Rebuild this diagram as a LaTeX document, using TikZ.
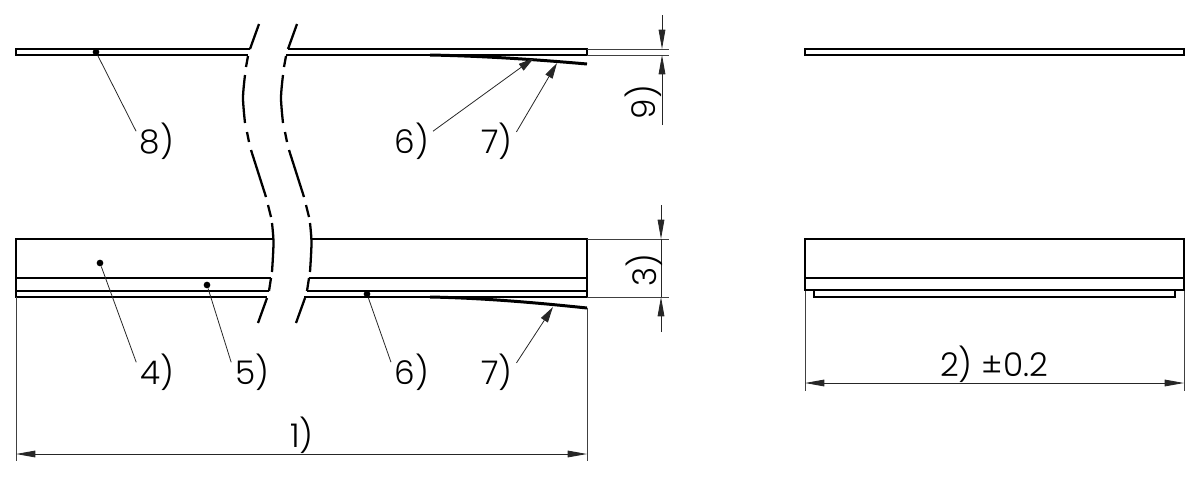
\documentclass[tikz,border=0pt]{standalone}
\usepackage{fontspec}
\setmainfont{Poppins Light}
\usetikzlibrary{arrows.meta}
\tikzset{
	part/.style={line width=1.4pt,line join=miter},
	thin line/.style={line width=0.5pt,black!75},
	dimline/.style={line width=0.5pt,black!85},
	dimtip/.style={{Triangle[length=11pt,width=3.8pt]}-{Triangle[length=11pt,width=3.8pt]}},
	endtip/.style={-{Triangle[length=11pt,width=3.8pt]}},
	leader/.style={line width=0.45pt,black!85},
	leadertip/.style={-{Triangle[length=9pt,width=4.6pt]}},
	breakline/.style={line width=1.3pt},
	bent/.style={line width=1.7pt},
	dot/.style={circle,fill=black,inner sep=0pt,minimum size=3.8pt},
	dimlabel/.style={font=\fontsize{18.6}{20}\selectfont,inner sep=2pt},
}
\begin{document}
\begin{tikzpicture}[x=0.02cm,y=-0.02cm]
	\useasboundingbox (0,0) rectangle (1200,477);

	% upper strip
	\draw[part] (250,49) -- (16,49) -- (16,55) -- (248,55);
	\draw[part] (288,49) -- (587,49) -- (587,55) -- (286,55);
	\draw[bent] (430,55) .. controls (480,56) and (530,59) .. (587,64);

	% lower part
	\draw[part] (273,239) -- (16,239) -- (16,297) -- (267,297);
	\draw[part] (16,278) -- (271,278);
	\draw[part] (16,291) -- (269,291);
	\draw[part] (311,239) -- (587,239) -- (587,297) -- (304,297);
	\draw[part] (309,278) -- (587,278);
	\draw[part] (307,291) -- (587,291);
	\draw[bent] (430,297) .. controls (480,298) and (530,302) .. (587,308);

	% break lines
	\foreach \dx in {0,38}{
		\begin{scope}[xshift=\dx*0.02cm]
			\draw[breakline] (259,24) -- (250,49);
			\draw[breakline] (248,56) -- (246,67);
			\draw[breakline] plot[smooth] coordinates {(245,75) (243,98) (245,123)};
			\draw[breakline] (247,132) -- (249,142);
			\draw[breakline] (251,150) -- (266,197);
			\draw[breakline] (268,205) -- (271,217);
			\draw[breakline] plot[smooth] coordinates {(272,223) (273.5,243) (272,272)};
			\draw[breakline] (271,278) -- (269,291);
			\draw[breakline] (267,298) -- (258,323);
		\end{scope}
	}

	% right views
	\draw[part] (805,49) rectangle (1184,55);
	\draw[part] (805,239) rectangle (1184,290);
	\draw[part] (805,278) -- (1184,278);
	\draw[part] (814,290) -- (814,297) -- (1175,297) -- (1175,290);

	% dimension coordinates
	\coordinate (d1a) at (16,454);
	\coordinate (d1b) at (587,454);
	\coordinate (d2a) at (805,383);
	\coordinate (d2b) at (1184,383);
	\coordinate (d3top) at (661,239);
	\coordinate (d3bot) at (661,297);
	\coordinate (d3up) at (661,205);
	\coordinate (d3dn) at (661,332);
	\coordinate (d9top) at (662,49);
	\coordinate (d9bot) at (662,55);
	\coordinate (d9up) at (662,15);
	\coordinate (d9dn) at (662,125);

	% extension lines
	\draw[thin line] (587,49) -- (669,49);
	\draw[thin line] (587,55) -- (669,55);
	\draw[thin line] (587,239) -- (669,239);
	\draw[thin line] (587,297) -- (669,297);
	\draw[thin line] (16,297) -- (16,461);
	\draw[thin line] (587,308) -- (587,461);
	\draw[thin line] (805,291) -- (805,391);
	\draw[thin line] (1184,291) -- (1184,391);

	% dimensions
	\draw[dimline,dimtip] (d1a) -- (d1b);
	\draw[dimline,dimtip] (d2a) -- (d2b);
	\draw[dimline] (d3top) -- (d3bot);
	\draw[dimline,endtip] (d3up) -- (d3top);
	\draw[dimline,endtip] (d3dn) -- (d3bot);
	\draw[dimline,endtip] (d9up) -- (d9top);
	\draw[dimline,endtip] (d9dn) -- (d9bot);

	\node[dimlabel] (lab1) at (302,435) {1)};
	\node[dimlabel] (lab2) at (994,364) {2) ±0.2};
	\node[dimlabel,rotate=90] (lab3) at (644,270) {3)};
	\node[dimlabel,rotate=90] (lab9) at (643,102) {9)};

	% balloons
	\node[dimlabel] (lab8) at (157,141) {8)};
	\node[dimlabel] (lab6a) at (412,141) {6)};
	\node[dimlabel] (lab7a) at (497,141) {7)};
	\node[dimlabel] (lab4) at (157,372) {4)};
	\node[dimlabel] (lab5) at (252,372) {5)};
	\node[dimlabel] (lab6b) at (412,372) {6)};
	\node[dimlabel] (lab7b) at (497,372) {7)};

	\node[dot] (dot8) at (96,52) {};
	\node[dot] (dot4) at (100,263) {};
	\node[dot] (dot5) at (207,285) {};
	\node[dot] (dot6) at (367,294) {};
	\coordinate (tip6a) at (534,58);
	\coordinate (tip7a) at (557,63);
	\coordinate (tip7b) at (553,307);

	\draw[leader] (lab8.155) -- (dot8);
	\draw[leader] (lab4.155) -- (dot4);
	\draw[leader] (lab5.155) -- (dot5);
	\draw[leader] (lab6b.155) -- (dot6);
	\draw[leader,leadertip] (lab6a.25) -- (tip6a);
	\draw[leader,leadertip] (lab7a.25) -- (tip7a);
	\draw[leader,leadertip] (lab7b.25) -- (tip7b);
\end{tikzpicture}
\end{document}
